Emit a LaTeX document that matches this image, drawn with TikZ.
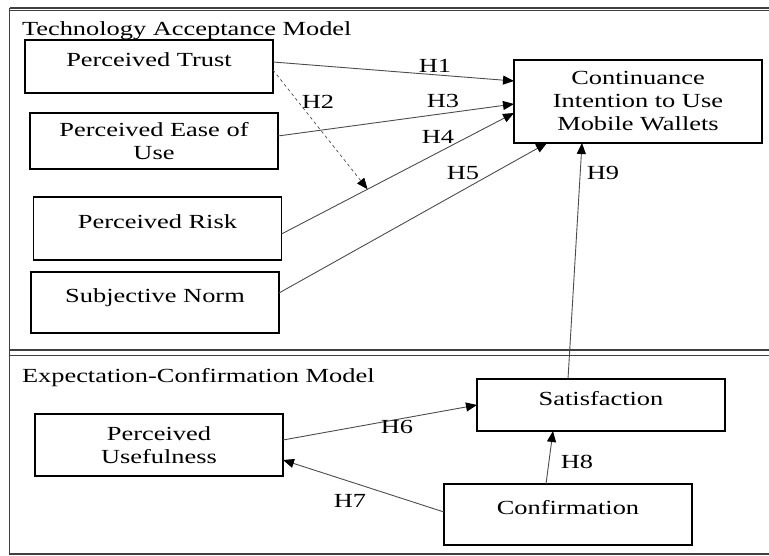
\documentclass[tikz,border=0pt]{standalone}
\usepackage{fontspec}
\setmainfont[FakeStretch=1.32]{Liberation Serif}
\usetikzlibrary{arrows.meta}

\begin{document}
\begin{tikzpicture}[x=1pt, y=-1pt, inner sep=0, outer sep=0,
    font=\fontsize{20}{23}\selectfont,
    >={Triangle[length=11pt, width=9pt, color=black]},
    box/.style={rectangle, draw=black, line width=1.6pt, minimum width=248pt, align=center},
    oneline/.style={text height=14pt, text depth=14pt},
    link/.style={->, draw=black!70, line width=0.9pt},
    frame/.style={draw=black!75, line width=1.3pt}]
  \useasboundingbox (0,0) rectangle (769,556);

  % outer frame and separator
  \draw[frame] (9.5,8) -- (769,8);
  \draw[frame] (9.5,10.8) -- (769,10.8);
  \draw[frame] (9.5,350) -- (769,350);
  \draw[frame] (9.5,355.7) -- (769,355.7);
  \draw[frame] (9.5,8) -- (9.5,554) -- (769,554);

  \node[anchor=base west] (tam) at (22,36) {Technology Acceptance Model};
  \node[anchor=base west] (ecm) at (22,382) {Expectation-Confirmation Model};

  \node[box, oneline, minimum height=53pt] (trust) at (149,66.5) {Perceived Trust};
  \node[box, minimum height=56pt] (ease) at (154,141) {Perceived Ease of\\Use};
  \node[box, oneline, minimum height=63pt] (risk) at (157.5,228.5) {Perceived Risk};
  \node[box, oneline, minimum height=61pt] (norm) at (155,302.5) {Subjective Norm};
  \node[box, minimum height=83pt] (intent) at (638,101.5) {Continuance\\Intention to Use\\Mobile Wallets};

  \node[box, minimum height=62pt] (useful) at (159,445) {Perceived\\Usefulness};
  \node[box, oneline, minimum height=52pt] (satisf) at (601,405) {Satisfaction};
  \node[box, oneline, minimum height=61pt] (confirm) at (568,514.5) {Confirmation};

  \draw[link] ([yshift=4.5pt]trust.east) -- ([yshift=20.5pt]intent.west);
  \draw[link] ([yshift=5pt]ease.east) -- ([yshift=-2.5pt]intent.west);
  \draw[link] ([yshift=-5.5pt]risk.east) -- coordinate[pos=0.37] (h4mid) ([yshift=-11.5pt]intent.west);
  \draw[link] ([yshift=9.5pt]norm.east) -- ([xshift=33pt]intent.south west);
  \draw[link, dashed, line width=0.7pt] ([yshift=-3.5pt]trust.east) -- (h4mid);
  \draw[link] ([xshift=-33pt]satisf.north) -- ([xshift=-56pt]intent.south);

  \draw[link] ([yshift=5pt]useful.east) -- (satisf.west);
  \draw[link] ([yshift=2.5pt]confirm.west) -- ([yshift=-15pt]useful.east);
  \draw[link] ([xshift=-22pt]confirm.north) -- ([xshift=-48pt]satisf.south);

  \node (lh1) at (435,66) {H1};
  \node (lh2) at (318,102) {H2};
  \node (lh3) at (443,101) {H3};
  \node (lh4) at (438,137) {H4};
  \node (lh5) at (463,173) {H5};
  \node (lh6) at (397,427) {H6};
  \node (lh7) at (350,501) {H7};
  \node (lh8) at (577,462) {H8};
  \node (lh9) at (603,173) {H9};
\end{tikzpicture}
\end{document}
